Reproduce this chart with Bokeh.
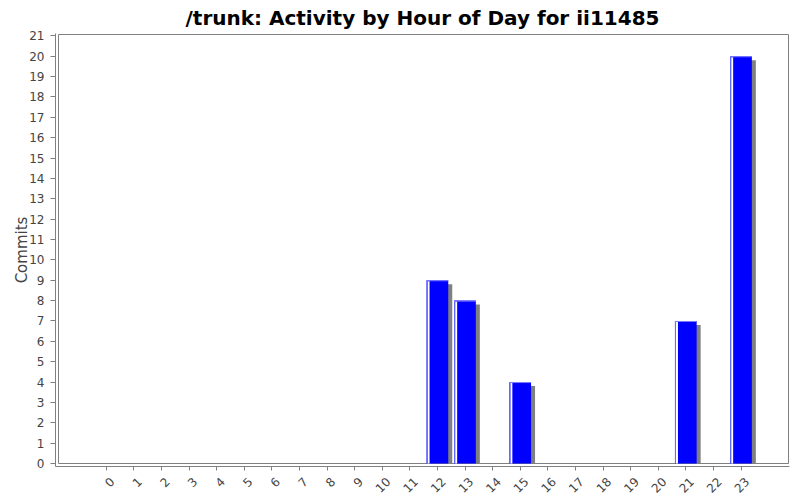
import math
from bokeh.plotting import figure
from bokeh.models import Range1d, FixedTicker, LinearAxis
from bokeh.embed import file_html
from bokeh.resources import INLINE

# ---- data ----
hours = list(range(24))
hour_labels = [str(h) for h in hours]
commits = [0, 0, 0, 0, 0, 0, 0, 0, 0, 0, 0, 0, 9, 8, 0, 4, 0, 0, 0, 0, 0, 7, 0, 20]
y_ticks = list(range(0, 22))
title_text = "/trunk: Activity by Hour of Day for ii11485"
y_label = "Commits"

# ---- layout constants ----
X_START, X_END = -1.837, 24.757
Y_START, Y_END = -0.147, 21.117
FRAME_W, FRAME_H = 734, 434
px_x = FRAME_W / (X_END - X_START)
px_y = FRAME_H / (Y_END - Y_START)
BAR_W = 0.786
LABEL_SHIFT = 6 / px_x
FONT = "DejaVu Sans"
GRAY = "#808080"
TXT = "#444444"

p = figure(width=800, height=500,
           x_range=Range1d(X_START, X_END), y_range=Range1d(Y_START, Y_END),
           output_backend="svg", toolbar_location=None,
           min_border_left=55, min_border_right=11, min_border_top=32, min_border_bottom=34)
p.outline_line_color = None
p.grid.visible = False
p.background_fill_color = "white"
p.border_fill_color = "white"

# title
p.title.text = title_text
p.title.align = "center"
p.title.offset = -22
p.title.standoff = 7
p.title.text_font = FONT
p.title.text_font_size = "20px"
p.title.text_font_style = "bold"
p.title.text_color = "black"

# plot border (inset from axes)
p.quad(left=[X_START + 3 / px_x], right=[X_END - 1 / px_x],
       bottom=[0], top=[Y_END - 1 / px_y],
       fill_color=None, line_color=GRAY, line_width=1)

# bars
bh = [h for h, v in zip(hours, commits) if v > 0]
bv = [v for v in commits if v > 0]
dx, dy = 4 / px_x, 4 / px_y
left = [h - BAR_W / 2 for h in bh]
right = [h + BAR_W / 2 for h in bh]

# shadows
p.quad(left=[l + dx for l in left], right=[r + dx for r in right],
       bottom=[0] * len(bv), top=[max(v - dy, 0) for v in bv],
       fill_color=GRAY, line_color=None)
# main bars
p.quad(left=left, right=right, bottom=[0] * len(bv), top=bv,
       fill_color="#0000FF", line_color=None)
# white highlight stripe
p.quad(left=[l + 1 / px_x for l in left], right=[l + 3 / px_x for l in left],
       bottom=[0] * len(bv), top=[v - 1 / px_y for v in bv],
       fill_color="white", line_color=None)
# light edges
p.segment(x0=[l + 0.5 / px_x for l in left], x1=[l + 0.5 / px_x for l in left],
          y0=[0] * len(bv), y1=bv, line_color="#7070ff", line_width=1)
p.segment(x0=left, x1=right, y0=[v - 0.5 / px_y for v in bv], y1=[v - 0.5 / px_y for v in bv],
          line_color="#8080ff", line_width=1)

# x axis: tick marks only (as minor ticks, so no label texts are drawn)
xa = p.xaxis[0]
xa.ticker = FixedTicker(ticks=[], minor_ticks=hours)
xa.major_label_standoff = 0
xa.major_tick_in = 0
xa.major_tick_out = 4
xa.minor_tick_in = 0
xa.minor_tick_out = 4
xa.minor_tick_line_color = GRAY
xa.major_tick_line_color = GRAY
xa.axis_line_color = GRAY

# x axis labels: second axis, shifted so labels center under ticks
p.extra_x_ranges = {"lab": Range1d(X_START - LABEL_SHIFT, X_END - LABEL_SHIFT)}
xl = LinearAxis(x_range_name="lab", ticker=FixedTicker(ticks=hours))
xl.major_label_overrides = {h: lab for h, lab in zip(hours, hour_labels)}
xl.major_label_orientation = math.pi / 4
xl.major_label_standoff = 9
xl.major_tick_in = 0
xl.major_tick_out = 0
xl.major_tick_line_color = None
xl.minor_tick_line_color = None
xl.axis_line_color = None
xl.major_label_text_font = FONT
xl.major_label_text_font_size = "12px"
xl.major_label_text_color = TXT
p.add_layout(xl, "below")

# y axis
ya = p.yaxis[0]
ya.ticker = FixedTicker(ticks=y_ticks)
ya.major_label_standoff = 6
ya.major_tick_in = 0
ya.major_tick_out = 5
ya.minor_tick_line_color = None
ya.axis_line_color = GRAY
ya.major_tick_line_color = GRAY
ya.major_label_text_font = FONT
ya.major_label_text_font_size = "12px"
ya.major_label_text_color = TXT
ya.axis_label = y_label
ya.axis_label_text_font = FONT
ya.axis_label_text_font_size = "15px"
ya.axis_label_text_font_style = "normal"
ya.axis_label_text_color = TXT
ya.axis_label_standoff = -5

open("out.html", "w").write(file_html(p, INLINE))
